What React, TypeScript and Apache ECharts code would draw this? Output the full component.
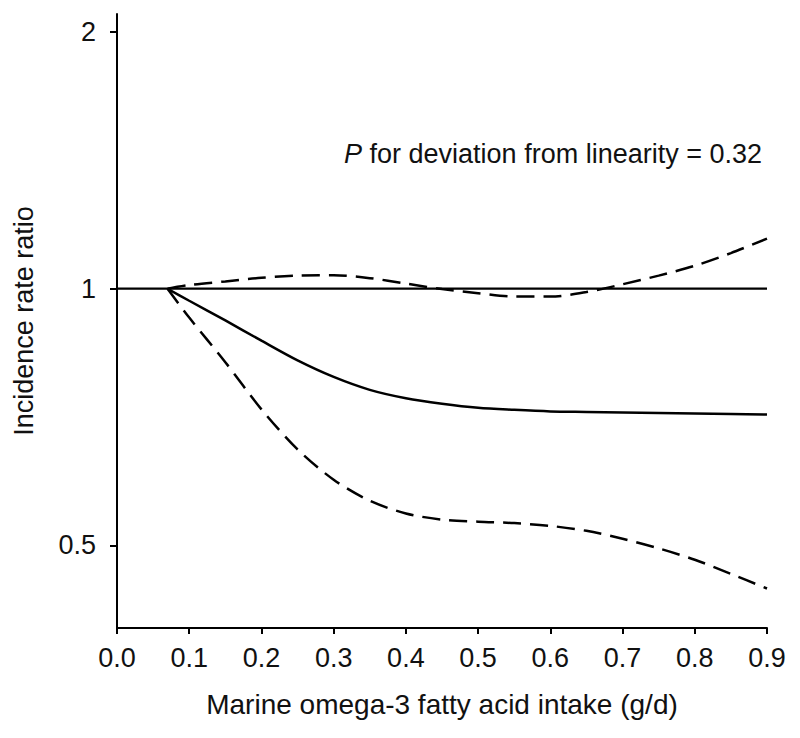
import React, { useEffect, useRef } from "react";
import * as echarts from "echarts";

const xTicks = [0, 0.9];
const yTickValues = [0.5, 1, 2];
const refLine: [number, number][] = [[0, 1], [0.9, 1]];
const xs = [0.07, 0.1, 0.15, 0.2, 0.25, 0.3, 0.35, 0.4, 0.45, 0.5, 0.55, 0.6, 0.65, 0.7, 0.75, 0.8, 0.85, 0.9];
const estimate = [1.0, 0.968, 0.918, 0.869, 0.824, 0.788, 0.761, 0.744, 0.733, 0.725, 0.721, 0.718, 0.717, 0.716, 0.715, 0.714, 0.713, 0.712];
const upperCI = [1.0, 1.01, 1.02, 1.03, 1.036, 1.037, 1.029, 1.014, 0.999, 0.988, 0.979, 0.979, 0.991, 1.012, 1.036, 1.064, 1.101, 1.145];
const lowerCI = [1.0, 0.925, 0.82, 0.722, 0.648, 0.597, 0.564, 0.545, 0.536, 0.533, 0.531, 0.527, 0.52, 0.509, 0.496, 0.481, 0.463, 0.445];
const annotation = "{i|P} for deviation from linearity = 0.32";
const xTitle = "Marine omega-3 fatty acid intake (g/d)";
const yTitle = "Incidence rate ratio";

const FONT = "'Liberation Sans', Arial, sans-serif";

export default function App() {
  const ref = useRef<HTMLDivElement>(null);
  useEffect(() => {
    if (!ref.current) return;
    const chart = echarts.init(ref.current, undefined, { renderer: "svg" });
    const pair = (ys: number[]) => xs.map((x, i) => [x, ys[i]]);
    const dashed = { type: [18, 9] as any, width: 2.5, color: "#000" };
    chart.setOption({
      animation: false,
      backgroundColor: "#fff",
      grid: { left: 117, right: 33, top: 14, bottom: 110 },
      xAxis: {
        type: "value",
        min: xTicks[0],
        max: xTicks[1],
        interval: 0.1,
        name: xTitle,
        nameLocation: "middle",
        nameGap: 62,
        nameTextStyle: { fontFamily: FONT, fontSize: 28, color: "#111" },
        axisLine: { lineStyle: { color: "#000", width: 2 } },
        axisTick: { length: 6, lineStyle: { color: "#000", width: 2 } },
        axisLabel: {
          fontFamily: FONT,
          fontSize: 27,
          color: "#111",
          margin: 16,
          formatter: (v: number) => v.toFixed(1),
        },
        splitLine: { show: false },
      },
      yAxis: {
        type: "log",
        logBase: 2,
        min: 0.4,
        max: 2.1,
        name: yTitle,
        nameLocation: "middle",
        nameGap: 80,
        nameTextStyle: { fontFamily: FONT, fontSize: 27, color: "#111" },
        axisLine: { show: true, lineStyle: { color: "#000", width: 2 } },
        axisTick: { show: true, length: 7, customValues: yTickValues, lineStyle: { color: "#000", width: 2 } },
        axisLabel: {
          fontFamily: FONT,
          fontSize: 27,
          color: "#111",
          margin: 21,
          customValues: yTickValues,
          formatter: (v: number) => String(Math.round(v * 100) / 100),
        },
        splitLine: { show: false },
      },
      graphic: [
        {
          type: "text",
          right: 38,
          top: 140,
          style: {
            text: annotation,
            fontFamily: FONT,
            fontSize: 27,
            fill: "#111",
            rich: { i: { fontStyle: "italic", fontFamily: FONT, fontSize: 27, fill: "#111" } },
          },
        },
      ],
      series: [
        {
          type: "line",
          data: refLine,
          symbol: "none",
          lineStyle: { color: "#000", width: 2.3 },
        },
        {
          type: "line",
          data: pair(estimate),
          smooth: 0.3,
          symbol: "none",
          lineStyle: { color: "#000", width: 2.5 },
        },
        {
          type: "line",
          data: pair(upperCI),
          smooth: 0.3,
          symbol: "none",
          lineStyle: dashed,
        },
        {
          type: "line",
          data: pair(lowerCI),
          smooth: 0.3,
          symbol: "none",
          lineStyle: dashed,
        },
      ],
    });
    return () => chart.dispose();
  }, []);
  return <div ref={ref} style={{ width: 800, height: 738, position: "absolute", left: 0, top: 0 }} />;
}
